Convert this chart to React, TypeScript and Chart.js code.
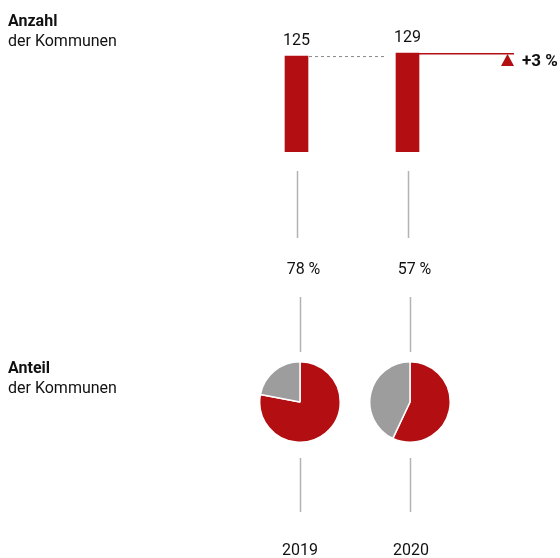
import React, { useEffect, useRef } from "react";
import { Chart, registerables } from "chart.js";

Chart.register(...registerables);

const years = ["2019", "2020"];
const counts = [125, 129];
const shares = [78, 57];
const titles = [
  { bold: "Anzahl", sub: "der Kommunen" },
  { bold: "Anteil", sub: "der Kommunen" },
];

const RED = "#b30f13";
const GRAY = "#9d9d9d";
const LINE = "#b3b3b3";
const TEXT = "#111111";
const FONT = "Roboto";

export default function App() {
  const mainRef = useRef<HTMLCanvasElement | null>(null);
  const pieRefs = [useRef<HTMLCanvasElement | null>(null), useRef<HTMLCanvasElement | null>(null)];

  useEffect(() => {
    const annot = {
      id: "annot",
      afterDraw(chart: any) {
        const ctx = chart.ctx;
        const meta = chart.getDatasetMeta(0);
        const bars = meta.data as any[];
        ctx.save();
        ctx.fillStyle = TEXT;
        ctx.textBaseline = "alphabetic";
        // titles
        ctx.textAlign = "left";
        ctx.font = `bold 16px ${FONT}`;
        ctx.fillText(titles[0].bold, 8, 26);
        ctx.font = `16px ${FONT}`;
        ctx.fillText(titles[0].sub, 8, 46);
        ctx.font = `bold 16px ${FONT}`;
        ctx.fillText(titles[1].bold, 8, 373);
        ctx.font = `16px ${FONT}`;
        ctx.fillText(titles[1].sub, 8, 393);

        // value labels
        ctx.textAlign = "center";
        ctx.font = `16px ${FONT}`;
        bars.forEach((b, i) => {
          ctx.fillText(String(counts[i]), b.x, b.y - 11);
        });

        const b0 = bars[0];
        const b1 = bars[1];
        const half0 = b0.width / 2;
        const half1 = b1.width / 2;
        // dashed line
        ctx.strokeStyle = "#8a8a8a";
        ctx.lineWidth = 1;
        ctx.setLineDash([3, 3]);
        ctx.beginPath();
        ctx.moveTo(b0.x + half0 + 1, b0.y + 0.5);
        ctx.lineTo(b1.x - half1 - 11, b0.y + 0.5);
        ctx.stroke();
        ctx.setLineDash([]);
        // red line
        const endX = 514;
        ctx.strokeStyle = RED;
        ctx.lineWidth = 1.5;
        ctx.beginPath();
        ctx.moveTo(b1.x + half1, b1.y + 0.75);
        ctx.lineTo(endX, b1.y + 0.75);
        ctx.stroke();
        // triangle
        ctx.fillStyle = RED;
        ctx.beginPath();
        ctx.moveTo(endX - 6.5, b1.y + 1);
        ctx.lineTo(endX, b1.y + 13);
        ctx.lineTo(endX - 13, b1.y + 13);
        ctx.closePath();
        ctx.fill();
        // change text
        const change = Math.round(((counts[1] - counts[0]) / counts[0]) * 100);
        ctx.fillStyle = TEXT;
        ctx.font = `bold 17px ${FONT}`;
        ctx.textAlign = "left";
        ctx.fillText(`${change > 0 ? "+" : ""}${change} %`, 522, b1.y + 13.5);

        // vertical lines
        ctx.strokeStyle = LINE;
        ctx.lineWidth = 1.5;
        bars.forEach((b, i) => {
          const x = Math.round(b.x) + 0.5;
          ctx.beginPath();
          ctx.moveTo(x, 171);
          ctx.lineTo(x, 238);
          ctx.stroke();
          const x2 = x + (i === 0 ? 3 : 2);
          ctx.beginPath();
          ctx.moveTo(x2, 297);
          ctx.lineTo(x2, 352);
          ctx.moveTo(x2, 458);
          ctx.lineTo(x2, 512);
          ctx.stroke();
        });

        // share labels and years
        ctx.fillStyle = TEXT;
        ctx.font = `16px ${FONT}`;
        ctx.textAlign = "center";
        bars.forEach((b, i) => {
          ctx.fillText(`${shares[i]} %`, b.x + 7, 274);
          ctx.fillText(years[i], b.x + 3.5, 555);
        });
        ctx.restore();
      },
    };

    const main = new Chart(mainRef.current!, {
      type: "bar",
      data: {
        labels: years,
        datasets: [
          {
            data: counts,
            backgroundColor: RED,
            barThickness: 23,
            borderWidth: 0,
          },
        ],
      },
      options: {
        animation: false,
        responsive: false,
        events: [],
        layout: { padding: { left: 241, right: 97, top: 0, bottom: 406 } },
        plugins: { legend: { display: false }, tooltip: { enabled: false } },
        scales: {
          x: { display: false, offset: true },
          y: { display: false, min: 0, max: 198 },
        },
      },
      plugins: [annot],
    });

    const xScale = main.scales.x;
    const pies = pieRefs.map((ref, i) => {
      const c = ref.current!;
      const cx = xScale.getPixelForValue(i) + (i === 0 ? 3.5 : 2.5);
      c.style.left = `${cx - 41}px`;
      c.style.top = `${402 - 41}px`;
      return new Chart(c, {
        type: "pie",
        data: {
          labels: ["Anteil", "Rest"],
          datasets: [
            {
              data: [shares[i], 100 - shares[i]],
              backgroundColor: [RED, GRAY],
              borderColor: "#ffffff",
              borderWidth: 1.5,
              hoverOffset: 0,
            },
          ],
        },
        options: {
          animation: false,
          responsive: false,
          events: [],
          plugins: { legend: { display: false }, tooltip: { enabled: false } },
        },
      });
    });

    return () => {
      main.destroy();
      pies.forEach((p) => p.destroy());
    };
  }, []);

  return (
    <div style={{ position: "absolute", left: 0, top: 0, width: 560, height: 558, background: "#fff" }}>
      <canvas ref={mainRef} width={560} height={558} style={{ position: "absolute", left: 0, top: 0, display: "block" }} />
      <canvas ref={pieRefs[0]} width={82} height={82} style={{ position: "absolute", display: "block", width: 82, height: 82 }} />
      <canvas ref={pieRefs[1]} width={82} height={82} style={{ position: "absolute", display: "block", width: 82, height: 82 }} />
    </div>
  );
}
